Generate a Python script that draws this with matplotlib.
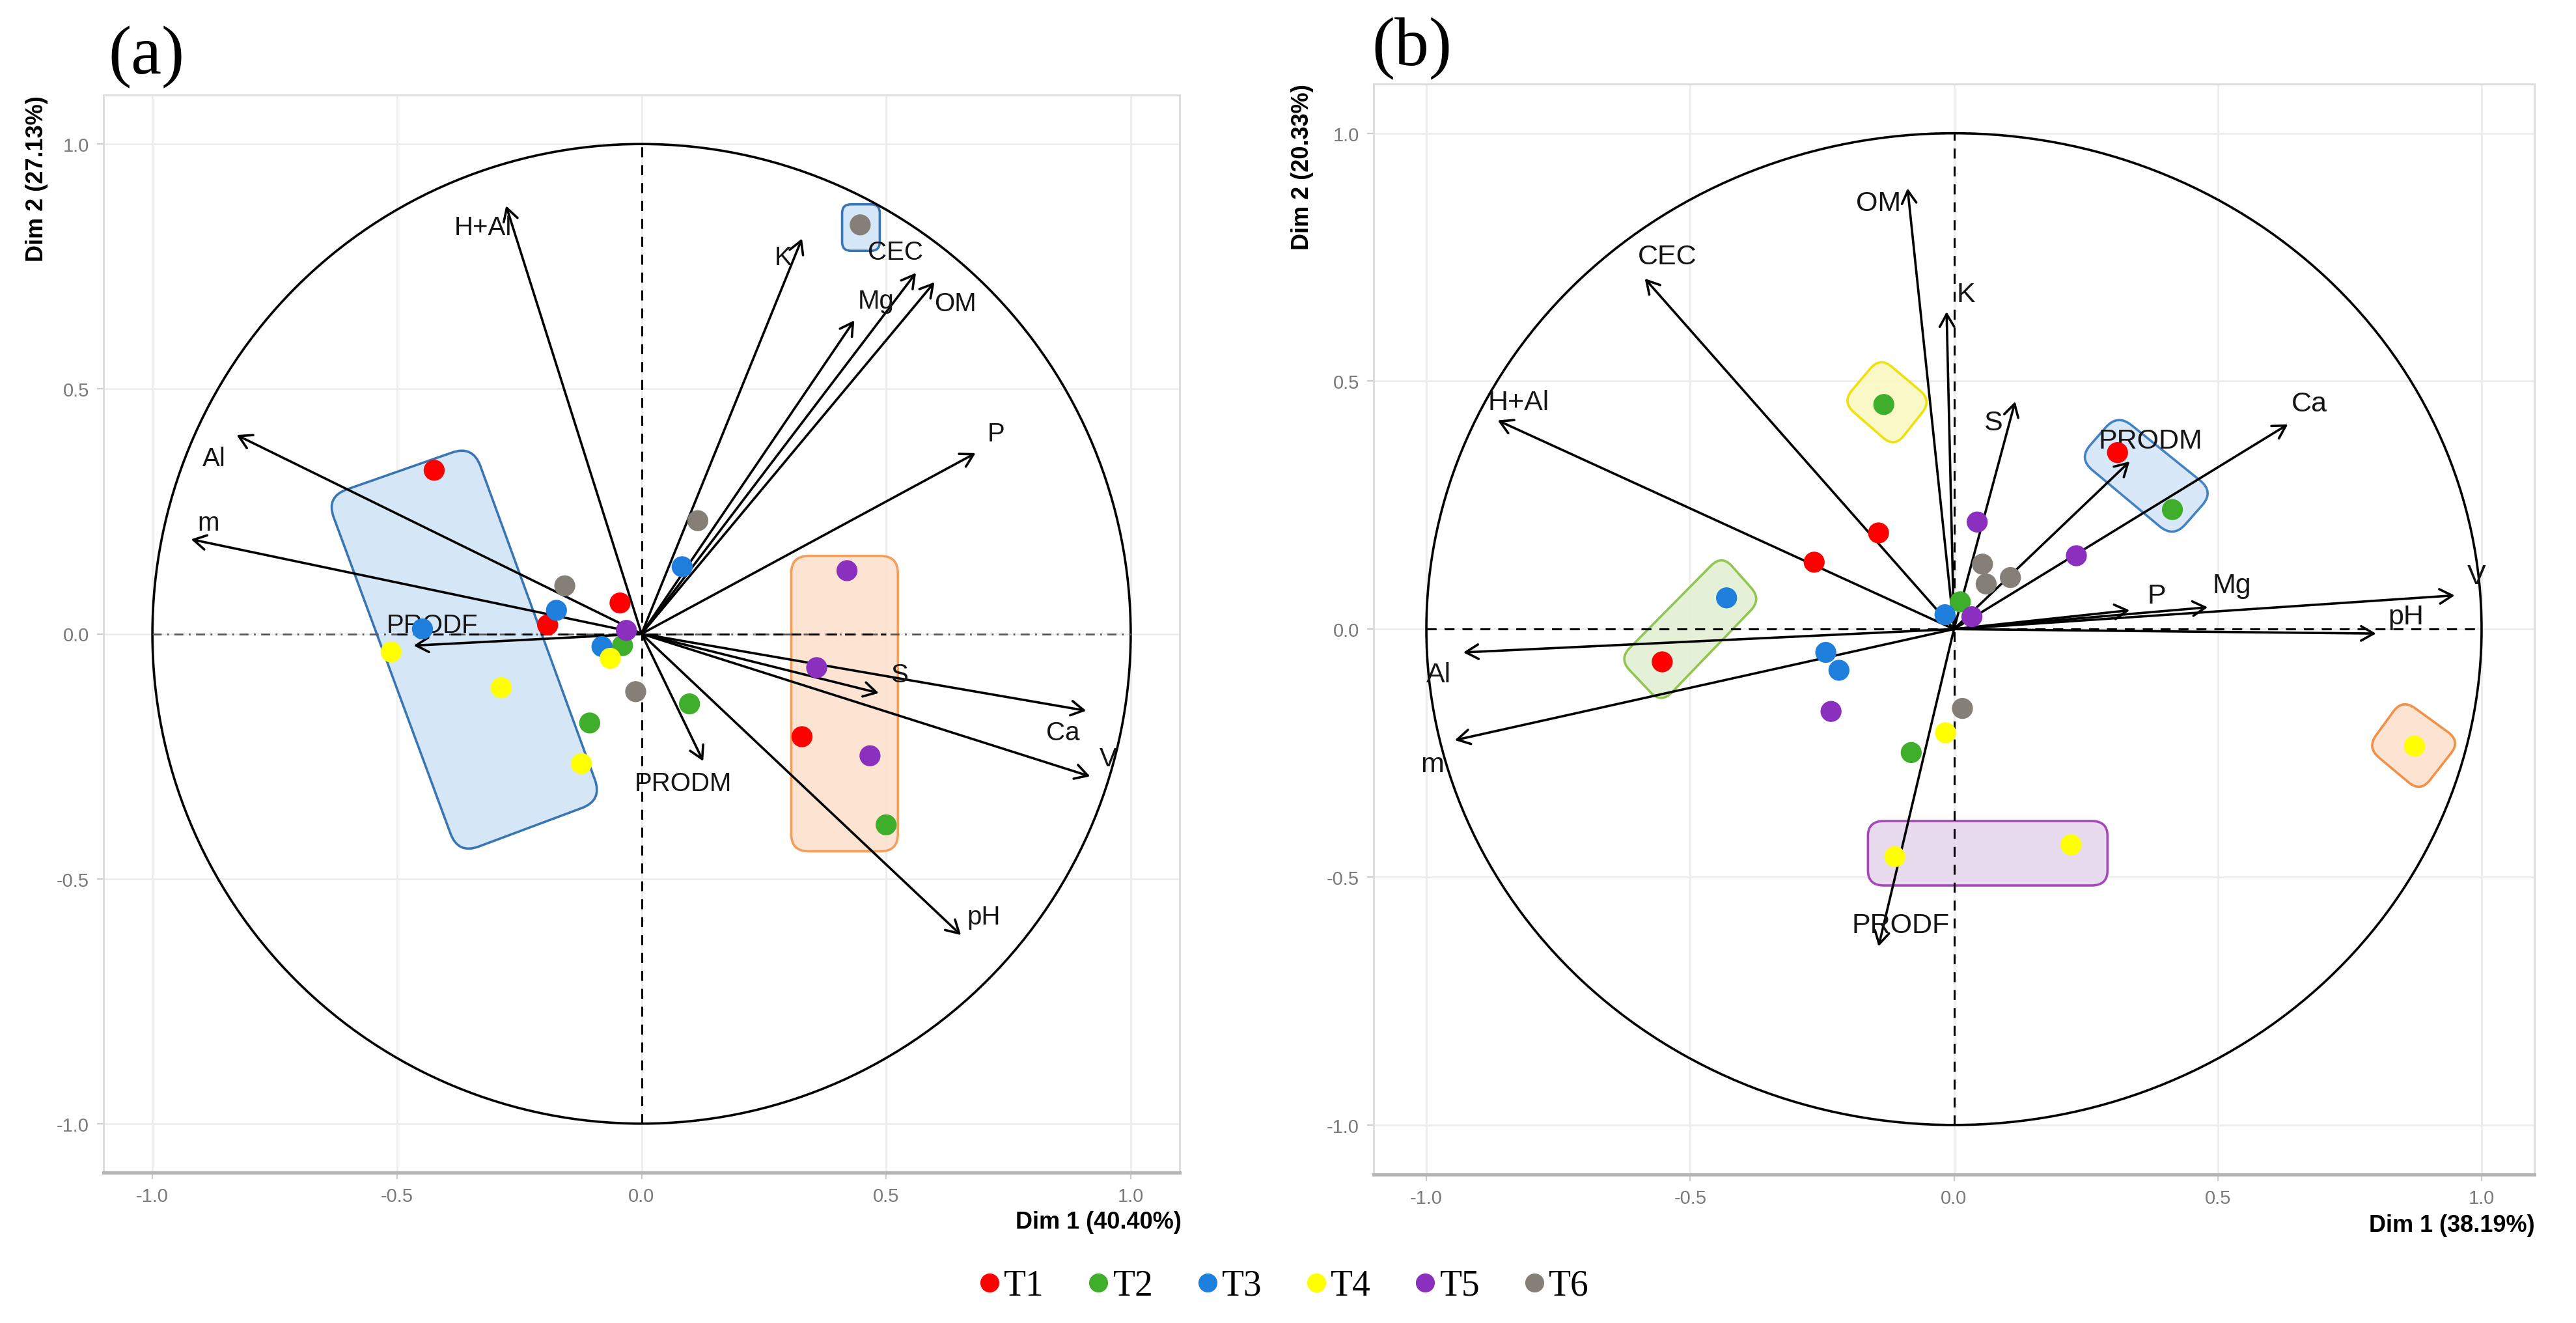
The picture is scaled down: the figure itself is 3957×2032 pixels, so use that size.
import numpy as np
import matplotlib
matplotlib.use("Agg")
import matplotlib.pyplot as plt
from matplotlib.path import Path
from matplotlib.patches import PathPatch, Circle
from matplotlib.lines import Line2D

# ---------------- data ----------------
groups = ["T1", "T2", "T3", "T4", "T5", "T6"]
group_colors = ["#ff0000", "#3fae2a", "#1f7fdc", "#ffff00", "#8a2fbe", "#857f78"]

# Panel (a): variable loadings
vars_a = ["H+Al", "K", "Mg", "CEC", "OM", "P", "Al", "m", "PRODF", "S", "Ca", "V", "PRODM", "pH"]
load_x_a = [-0.277, 0.328, 0.435, 0.561, 0.599, 0.683, -0.828, -0.921, -0.466, 0.485, 0.909, 0.917, 0.126, 0.653]
load_y_a = [0.874, 0.807, 0.640, 0.737, 0.718, 0.369, 0.406, 0.193, -0.024, -0.121, -0.157, -0.291, -0.260, -0.615]
label_x_a = [-0.324, 0.289, 0.479, 0.519, 0.641, 0.725, -0.874, -0.885, -0.428, 0.527, 0.861, 0.954, 0.085, 0.700]
label_y_a = [0.830, 0.769, 0.680, 0.780, 0.674, 0.409, 0.358, 0.226, 0.018, -0.083, -0.201, -0.254, -0.305, -0.578]

# Panel (a): individuals (4 per treatment)
score_group_a = ["T1"] * 4 + ["T2"] * 4 + ["T3"] * 4 + ["T4"] * 4 + ["T5"] * 4 + ["T6"] * 4
score_x_a = [-0.424, -0.044, -0.192, 0.328,
             -0.039, -0.106, 0.098, 0.500,
             0.083, -0.174, -0.448, -0.081,
             -0.512, -0.287, -0.123, -0.064,
             -0.031, 0.420, 0.358, 0.467,
             -0.157, 0.115, -0.012, 0.447]
score_y_a = [0.334, 0.063, 0.018, -0.210,
             -0.024, -0.182, -0.143, -0.390,
             0.137, 0.048, 0.010, -0.026,
             -0.037, -0.110, -0.265, -0.050,
             0.007, 0.129, -0.069, -0.249,
             0.098, 0.231, -0.118, 0.835]

# Panel (b): variable loadings
vars_b = ["OM", "CEC", "K", "H+Al", "S", "Ca", "PRODM", "P", "Mg", "V", "pH", "Al", "m", "PRODF"]
load_x_b = [-0.088, -0.586, -0.014, -0.865, 0.116, 0.633, 0.333, 0.333, 0.481, 0.949, 0.800, -0.930, -0.946, -0.143]
load_y_b = [0.889, 0.707, 0.640, 0.421, 0.459, 0.413, 0.338, 0.038, 0.044, 0.068, -0.009, -0.047, -0.224, -0.640]
label_x_b = [-0.143, -0.543, 0.023, -0.825, 0.074, 0.674, 0.372, 0.384, 0.527, 0.990, 0.856, -0.977, -0.989, -0.101]
label_y_b = [0.859, 0.752, 0.675, 0.457, 0.417, 0.455, 0.380, 0.067, 0.088, 0.107, 0.025, -0.092, -0.273, -0.597]

score_group_b = ["T1"] * 4 + ["T2"] * 4 + ["T3"] * 4 + ["T4"] * 4 + ["T5"] * 4 + ["T6"] * 4
score_x_b = [0.310, -0.143, -0.265, -0.553,
             -0.133, 0.414, 0.012, -0.081,
             -0.431, -0.017, -0.243, -0.218,
             -0.016, 0.873, 0.222, -0.112,
             0.044, 0.232, 0.034, -0.233,
             0.054, 0.061, 0.107, 0.016]
score_y_b = [0.356, 0.194, 0.135, -0.066,
             0.453, 0.241, 0.055, -0.249,
             0.063, 0.029, -0.047, -0.083,
             -0.209, -0.236, -0.435, -0.459,
             0.216, 0.148, 0.025, -0.166,
             0.131, 0.091, 0.104, -0.160]

dim_labels_a = ("Dim 1 (40.40%)", "Dim 2 (27.13%)")
dim_labels_b = ("Dim 1 (38.19%)", "Dim 2 (20.33%)")
tick_vals = [-1.0, -0.5, 0.0, 0.5, 1.0]
tick_text = ["-1.0", "-0.5", "0.0", "0.5", "1.0"]

# highlight boxes: (corners, facecolor, edgecolor, corner radius)
boxes_a = [
    ([(-0.645, 0.280), (-0.345, 0.385), (-0.080, -0.340), (-0.375, -0.450)], "#d3e5f6", "#2f6fb0", 0.045),
    ([(0.306, 0.159), (0.524, 0.159), (0.524, -0.444), (0.306, -0.444)], "#fde2cf", "#f39a55", 0.035),
    ([(0.410, 0.877), (0.487, 0.877), (0.487, 0.782), (0.410, 0.782)], "#d3e5f6", "#2f6fb0", 0.018),
]
boxes_b = [
    ([(-0.140, 0.549), (-0.042, 0.461), (-0.113, 0.366), (-0.212, 0.458)], "#fbf8c4", "#eee000", 0.03),
    ([(0.310, 0.434), (0.493, 0.277), (0.416, 0.184), (0.236, 0.344)], "#d6e7f8", "#3a7cc0", 0.035),
    ([(-0.440, 0.150), (-0.365, 0.060), (-0.555, -0.150), (-0.635, -0.060)], "#e3f1d4", "#8cc34a", 0.03),
    ([(0.850, -0.141), (0.960, -0.226), (0.884, -0.329), (0.783, -0.239)], "#fde2cf", "#f08c40", 0.03),
    ([(-0.163, -0.387), (0.291, -0.387), (0.291, -0.517), (-0.163, -0.517)], "#e8d9ee", "#a040b5", 0.03),
]

# ---------------- drawing ----------------
W, H, DPI = 3957, 2033, 200
fig = plt.figure(figsize=(W / DPI, H / DPI), dpi=DPI)

SANS = ["Liberation Sans", "DejaVu Sans"]
SERIF = ["Liberation Serif", "DejaVu Serif"]


def rounded_poly(corners, r):
    P = np.array(corners, dtype=float)
    n = len(P)
    verts, codes = [], []
    for i in range(n):
        p, prev, nxt = P[i], P[i - 1], P[(i + 1) % n]
        d1 = prev - p
        d1 /= np.linalg.norm(d1)
        d2 = nxt - p
        d2 /= np.linalg.norm(d2)
        a = p + d1 * r
        b = p + d2 * r
        verts.append(a)
        codes.append(Path.MOVETO if i == 0 else Path.LINETO)
        verts += [p, b]
        codes += [Path.CURVE3, Path.CURVE3]
    verts.append(verts[0])
    codes.append(Path.CLOSEPOLY)
    return Path(verts, codes)


def panel(ax, vars_, lx, ly, tx, ty, sg, sx, sy, boxes, dims, rect, fs_lab, hline_style):
    ax.set_xlim(-1.1, 1.1)
    ax.set_ylim(-1.1, 1.1)
    ax.set_xticks(tick_vals)
    ax.set_yticks(tick_vals)
    ax.set_xticklabels(tick_text)
    ax.set_yticklabels(tick_text)
    ax.tick_params(length=3.5, color="#cccccc", labelcolor="#7a7a7a", labelsize=10.5, pad=4.5)
    for lab in ax.get_xticklabels() + ax.get_yticklabels():
        lab.set_family(SANS)
    ax.grid(True, color="#ededed", lw=1.0)
    ax.set_axisbelow(True)
    for s in ["left", "top", "right"]:
        ax.spines[s].set_color("#dcdcdc")
        ax.spines[s].set_linewidth(1.0)
    ax.spines["bottom"].set_color("#b5b5b5")
    ax.spines["bottom"].set_linewidth(1.8)

    for corners, fc, ec, r in boxes:
        ax.add_patch(PathPatch(rounded_poly(corners, r), facecolor=fc, edgecolor=ec,
                               lw=1.3, alpha=0.95, zorder=1))

    ax.add_patch(Circle((0, 0), 1.0, fill=False, edgecolor="black", lw=1.3, zorder=2))
    ax.plot([0, 0], [-1, 1], ls=(0, (5, 4)), color="black", lw=1.1, zorder=2)
    if hline_style == "a":
        ax.plot([-1, 1], [0, 0], ls=(0, (5, 3, 1, 3)), color="#555555", lw=1.0, zorder=2)
        ax.plot([-0.5, 0.5], [0, 0], ls=(0, (5, 4)), color="black", lw=1.1, zorder=2)
    else:
        ax.plot([-1, 1], [0, 0], ls=(0, (5, 4)), color="black", lw=1.1, zorder=2)

    for v, x, y, px, py in zip(vars_, lx, ly, tx, ty):
        ax.annotate("", xy=(x, y), xytext=(0, 0),
                    arrowprops=dict(arrowstyle="->,head_length=0.35,head_width=0.2",
                                    lw=1.3, color="black", shrinkA=0, shrinkB=0,
                                    mutation_scale=20), zorder=3)
        ax.text(px, py, v, ha="center", va="center", fontsize=fs_lab,
                family=SANS, color="#151515", zorder=4)

    for g, c in zip(groups, group_colors):
        xs = [x for x, gg in zip(sx, sg) if gg == g]
        ys = [y for y, gg in zip(sy, sg) if gg == g]
        ax.scatter(xs, ys, s=135, color=c, edgecolors="none", zorder=5)

    fig.text(rect[1] / W, 1 - rect[4] / H, dims[0], ha="right", va="center",
             fontsize=13, fontweight="bold", family=SANS)
    fig.text(rect[5] / W, 1 - rect[2] / H, dims[1], ha="center", va="top", rotation=90,
             fontsize=13, fontweight="bold", family=SANS)


# axes rectangles in pixel coordinates
ax_a = fig.add_axes([159 / W, 1 - 1802 / H, (1812 - 159) / W, (1802 - 147) / H])
ax_b = fig.add_axes([2110 / W, 1 - 1805 / H, (3893 - 2110) / W, (1805 - 129.5) / H])

panel(ax_a, vars_a, load_x_a, load_y_a, label_x_a, label_y_a,
      score_group_a, score_x_a, score_y_a, boxes_a, dim_labels_a,
      (159, 1815, 147, 1802, 1878, 57), 14.5, "a")
panel(ax_b, vars_b, load_x_b, load_y_b, label_x_b, label_y_b,
      score_group_b, score_x_b, score_y_b, boxes_b, dim_labels_b,
      (2110, 3894, 129.5, 1805, 1883, 2001), 15.5, "b")

fig.text(225 / W, 1 - 88 / H, "(a)", family=SERIF, fontsize=38, ha="center", va="center")
fig.text(2169 / W, 1 - 75 / H, "(b)", family=SERIF, fontsize=38, ha="center", va="center")

handles = [Line2D([], [], marker="o", ls="", color=c, markeredgecolor="none", markersize=10.5)
           for c in group_colors]
fig.legend(handles, groups, loc="center", bbox_to_anchor=(1972 / W, 1 - 1976 / H), ncol=6,
           frameon=False, prop=dict(family=SERIF, size=20), handlelength=0.6,
           handletextpad=0.1, columnspacing=1.2, borderpad=0)

fig.savefig("out.png", dpi=DPI)
